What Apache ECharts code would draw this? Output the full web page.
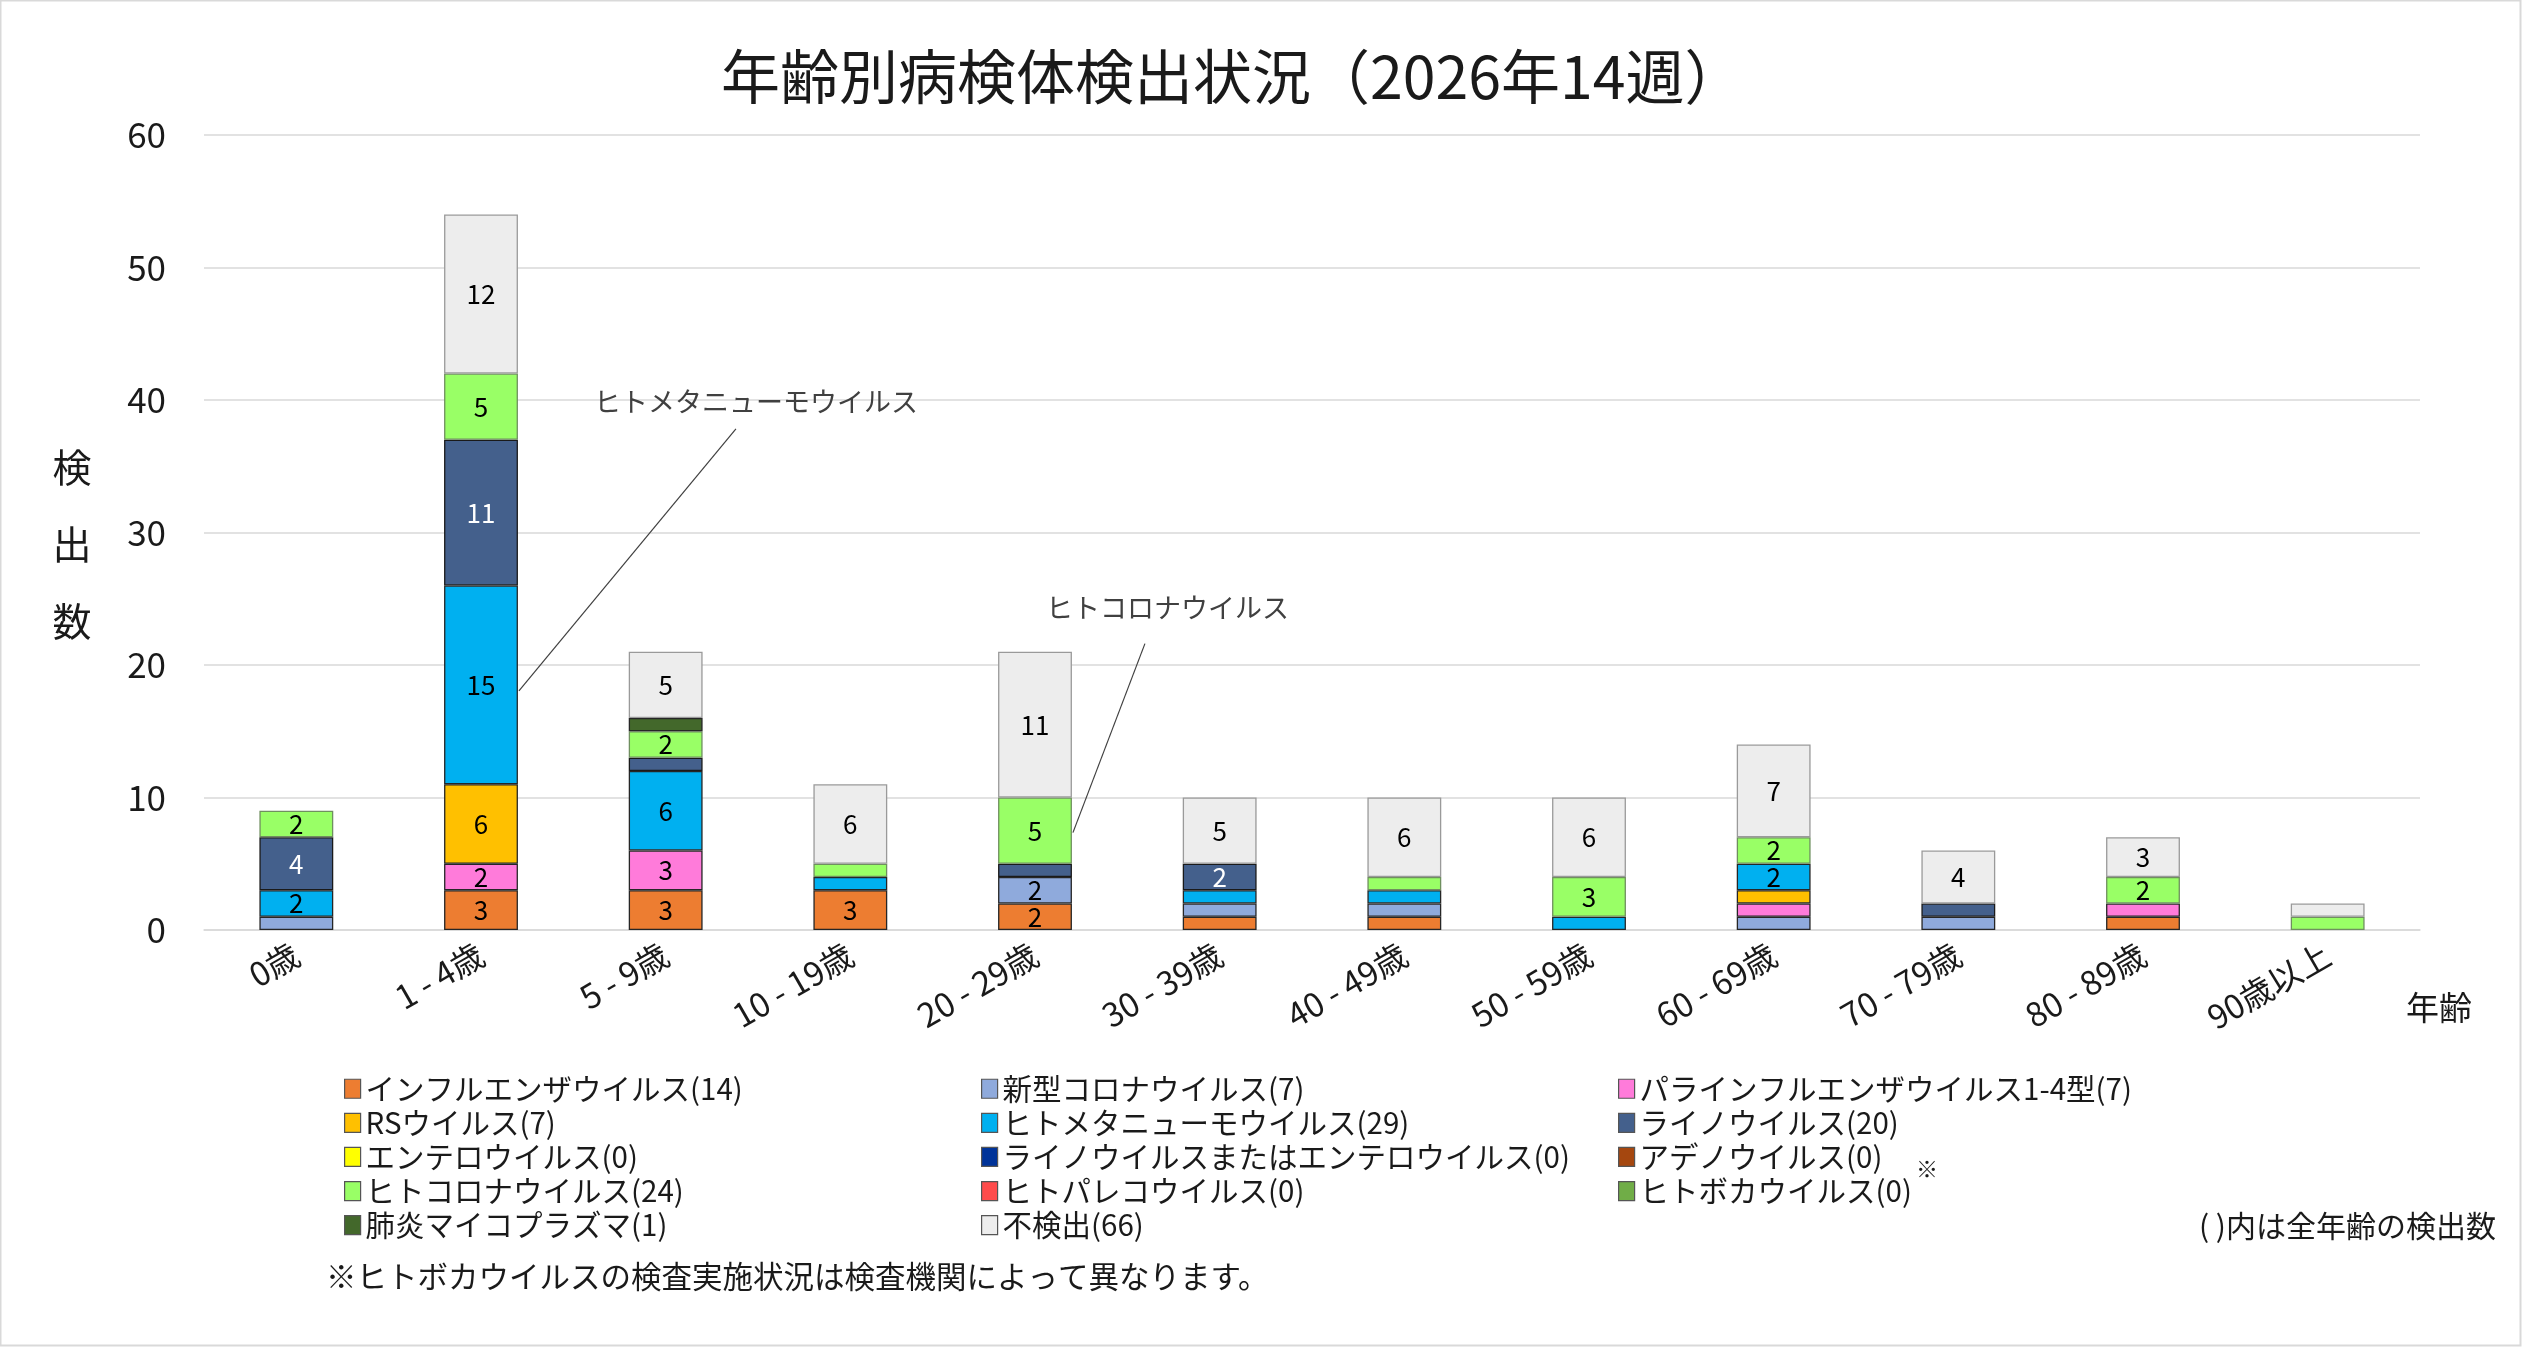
<!DOCTYPE html>
<html>
<head>
<meta charset="utf-8">
<script src="https://cdn.jsdelivr.net/npm/echarts@6/dist/echarts.min.js"></script>
<style>
html,body{margin:0;padding:0;background:#fff;}
#c{width:2522px;height:1347px;}
</style>
</head>
<body>
<div id="c"></div>
<script>
// ---- data ----
const categories = ['0歳','1 - 4歳','5 - 9歳','10 - 19歳','20 - 29歳','30 - 39歳','40 - 49歳','50 - 59歳','60 - 69歳','70 - 79歳','80 - 89歳','90歳以上'];
const seriesNames = ['インフルエンザウイルス','新型コロナウイルス','パラインフルエンザウイルス1-4型','RSウイルス','ヒトメタニューモウイルス','ライノウイルス','エンテロウイルス','ライノウイルスまたはエンテロウイルス','アデノウイルス','ヒトコロナウイルス','ヒトパレコウイルス','ヒトボカウイルス','肺炎マイコプラズマ','不検出'];
const influenza   = [0,3,3,3,2,1,1,0,0,0,1,0];
const covid19     = [1,0,0,0,2,1,1,0,1,1,0,0];
const parainfl    = [0,2,3,0,0,0,0,0,1,0,1,0];
const rsv         = [0,6,0,0,0,0,0,0,1,0,0,0];
const hmpv        = [2,15,6,1,0,1,1,1,2,0,0,0];
const rhino       = [4,11,1,0,1,2,0,0,0,1,0,0];
const entero      = [0,0,0,0,0,0,0,0,0,0,0,0];
const rhinoEntero = [0,0,0,0,0,0,0,0,0,0,0,0];
const adeno       = [0,0,0,0,0,0,0,0,0,0,0,0];
const hcov        = [2,5,2,1,5,0,1,3,2,0,2,1];
const parecho     = [0,0,0,0,0,0,0,0,0,0,0,0];
const boca        = [0,0,0,0,0,0,0,0,0,0,0,0];
const mycoplasma  = [0,0,1,0,0,0,0,0,0,0,0,0];
const notDetected = [0,12,5,6,11,5,6,6,7,4,3,1];
const yTicks = [0,10,20,30,40,50,60];

const seriesValues = [influenza,covid19,parainfl,rsv,hmpv,rhino,entero,rhinoEntero,adeno,hcov,parecho,boca,mycoplasma,notDetected];

// ---- style ----
const colors = ['#ED7D31','#8FAADC','#FF7BDA','#FFC000','#00B0F0','#44608C','#FFFF00','#003399','#A5470F','#99FF66','#FF4B4B','#70AD47','#43682B','#EDEDED'];
const borders = ['#262626','#262626','#262626','#262626','#262626','#1a1a1a','#262626','#262626','#262626','#6f8f5f','#262626','#262626','#262626','#9a9a9a'];
const FONT = '"Noto Sans CJK JP", "Noto Sans", sans-serif';

const totals = {};
seriesNames.forEach((n,i)=>{ totals[n] = seriesValues[i].reduce((a,b)=>a+b,0); });

const series = seriesNames.map((name,i)=>({
  name: name,
  type: 'bar',
  stack: 'total',
  barWidth: '40%',
  data: seriesValues[i].map(v => v === 0 ? '-' : v),
  itemStyle: { color: colors[i], borderColor: borders[i], borderWidth: 1.3 },
  label: {
    show: true,
    position: 'inside',
    fontFamily: FONT,
    fontSize: 26,
    color: (i === 5 || i === 7) ? '#ffffff' : '#000000',
    formatter: p => (p.value >= 2 ? String(p.value) : '')
  },
  emphasis: { disabled: true }
}));

const legendCols = [
  [0,3,6,9,12],
  [1,4,7,10,13],
  [2,5,8,11]
];
const legendLefts = [339, 976, 1613];
const legends = legendCols.map((col,k)=>({
  orient: 'vertical',
  left: legendLefts[k],
  top: 1069,
  itemWidth: 16,
  itemHeight: 19,
  itemGap: 4.6,
  icon: 'rect',
  selectedMode: false,
  data: col.map(i => ({ name: seriesNames[i], itemStyle: { borderColor: '#555', borderWidth: 1.2 } })),
  formatter: n => n + '(' + totals[n] + ')',
  textStyle: { fontFamily: FONT, fontSize: 29.5, color: '#1a1a1a', padding: [0,0,0,0], lineHeight: 29.5 }
}));

const chart = echarts.init(document.getElementById('c'), null, { renderer: 'canvas' });

const option = {
  backgroundColor: '#ffffff',
  animation: false,
  title: {
    text: '年齢別病検体検出状況（2026年14週）',
    left: 716,
    top: 42,
    textStyle: { fontFamily: FONT, fontSize: 59, fontWeight: 'normal', color: '#1a1a1a' }
  },
  legend: legends,
  grid: { left: 204, right: 102, top: 135, bottom: 417, containLabel: false },
  xAxis: {
    type: 'category',
    data: categories,
    axisLine: { show: true, lineStyle: { color: '#D9D9D9', width: 1.5 } },
    axisTick: { show: false },
    axisLabel: { rotate: 30, fontFamily: FONT, fontSize: 33, color: '#1a1a1a', margin: 22, interval: 0 }
  },
  yAxis: {
    type: 'value',
    min: yTicks[0],
    max: yTicks[yTicks.length-1],
    interval: yTicks[1]-yTicks[0],
    axisLine: { show: false },
    axisTick: { show: false },
    splitLine: { lineStyle: { color: '#D9D9D9', width: 1.5 } },
    axisLabel: { fontFamily: FONT, fontSize: 35, color: '#1a1a1a', margin: 38 }
  },
  series: series
};
chart.setOption(option);

// ---- annotations anchored to bar segments ----
function segAnchor(seriesIdx, catIdx){
  let base = 0;
  for (let s = 0; s < seriesIdx; s++) base += seriesValues[s][catIdx];
  const mid = base + seriesValues[seriesIdx][catIdx] * 0.47;
  const p = chart.convertToPixel({gridIndex:0}, [catIdx, mid]);
  const p0 = chart.convertToPixel({gridIndex:0}, [0, 0]);
  const p1 = chart.convertToPixel({gridIndex:0}, [1, 0]);
  const band = p1[0] - p0[0];
  return [p[0] + band * 0.2 + 1, p[1]];
}
const a1 = segAnchor(4, 1);   // hMPV, 1-4歳
const a2 = segAnchor(9, 4);   // ヒトコロナ, 20-29歳

chart.setOption({
  graphic: [
    { type: 'rect', shape: { x: 0.5, y: 0.5, width: 2520, height: 1345 }, style: { fill: 'none', stroke: '#D9D9D9', lineWidth: 2 }, silent: true },
    { type: 'line', shape: { x1: a1[0], y1: a1[1], x2: a1[0] + 217, y2: a1[1] - 262 }, style: { stroke: '#404040', lineWidth: 1.2 }, silent: true },
    { type: 'text', x: a1[0] + 75, y: a1[1] - 289, style: { text: 'ヒトメタニューモウイルス', font: '27px ' + FONT, fill: '#404040', textVerticalAlign: 'middle' }, silent: true },
    { type: 'line', shape: { x1: a2[0], y1: a2[1], x2: a2[0] + 72, y2: a2[1] - 189 }, style: { stroke: '#404040', lineWidth: 1.2 }, silent: true },
    { type: 'text', x: a2[0] - 27, y: a2[1] - 225, style: { text: 'ヒトコロナウイルス', font: '27px ' + FONT, fill: '#404040', textVerticalAlign: 'middle' }, silent: true },
    { type: 'text', x: 72, y: 544, style: { text: '検\n出\n数', font: '39px ' + FONT, fill: '#1a1a1a', textAlign: 'center', textVerticalAlign: 'middle', lineHeight: 77 }, silent: true },
    { type: 'text', x: 2406, y: 1007, style: { text: '年齢', font: '33px ' + FONT, fill: '#1a1a1a', textVerticalAlign: 'middle' }, silent: true },
    { type: 'text', x: 1916, y: 1169, style: { text: '※', font: '22px ' + FONT, fill: '#1a1a1a', textVerticalAlign: 'middle' }, silent: true },
    { type: 'text', x: 2496, y: 1226, style: { text: '( )内は全年齢の検出数', font: '30px ' + FONT, fill: '#1a1a1a', textAlign: 'right', textVerticalAlign: 'middle' }, silent: true },
    { type: 'text', x: 326, y: 1276, style: { text: '※ヒトボカウイルスの検査実施状況は検査機関によって異なります。', font: '30.5px ' + FONT, fill: '#1a1a1a', textVerticalAlign: 'middle' }, silent: true }
  ]
});
</script>
</body>
</html>
